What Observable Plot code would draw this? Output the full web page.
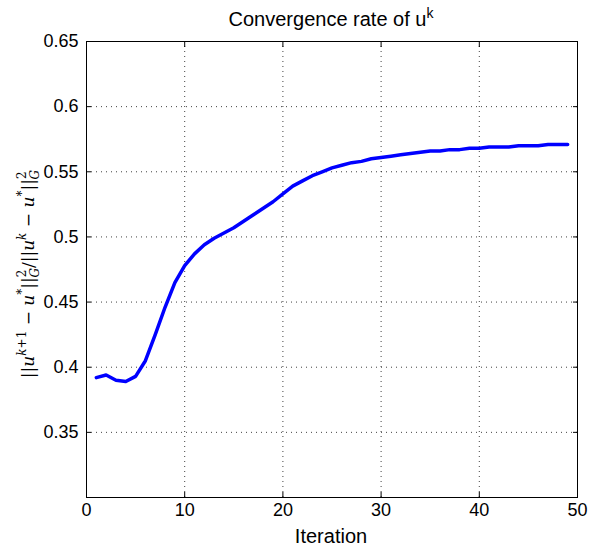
<!DOCTYPE html>
<html>
<head>
<meta charset="utf-8">
<script src="https://cdn.jsdelivr.net/npm/d3@7"></script>
<script src="https://cdn.jsdelivr.net/npm/@observablehq/plot@0.6"></script>
<style>
  html, body { margin: 0; padding: 0; background: #fff; }
  #chart svg { display: block; }
</style>
</head>
<body>
<div id="chart"></div>
<script>
const iterations = [1,2,3,4,5,6,7,8,9,10,11,12,13,14,15,16,17,18,19,20,21,22,23,24,25,26,27,28,29,30,31,32,33,34,35,36,37,38,39,40,41,42,43,44,45,46,47,48,49];
const ratios = [0.392,0.394,0.390,0.389,0.393,0.405,0.425,0.446,0.465,0.478,
                0.487,0.494,0.499,0.503,0.507,0.512,0.517,0.522,0.527,0.533,
                0.539,0.543,0.547,0.550,0.553,0.555,0.557,0.558,0.560,0.561,
                0.562,0.563,0.564,0.565,0.566,0.566,0.567,0.567,0.568,0.568,
                0.569,0.569,0.569,0.570,0.570,0.570,0.571,0.571,0.571];
const xTicks = [0,10,20,30,40,50];
const yTicks = [0.35,0.4,0.45,0.5,0.55,0.6,0.65];
const yTickLabels = ["0.35","0.4","0.45","0.5","0.55","0.6","0.65"];
const titleText = "Convergence rate of u";
const titleSup = "k";
const xLabel = "Iteration";

const data = iterations.map((it, i) => ({it, r: ratios[i]}));
const yFmt = d => yTickLabels[yTicks.findIndex(t => Math.abs(t - d) < 1e-9)];

const grid = {stroke: "#000", strokeOpacity: 0.75, strokeDasharray: "1,4", strokeWidth: 1};

const chart = Plot.plot({
  width: 600,
  height: 548,
  marginTop: 41,
  marginBottom: 51,
  marginLeft: 86,
  marginRight: 23,
  x: {domain: [0, 50], ticks: xTicks},
  y: {domain: [0.3, 0.65], ticks: yTicks},
  style: {fontFamily: "'Liberation Sans', Arial, sans-serif", fontSize: "18px", color: "#000", background: "#fff"},
  marks: [
    Plot.gridX(xTicks, grid),
    Plot.gridY(yTicks, grid),
    Plot.axisX({ticks: xTicks, tickSize: -5, tickPadding: 11, tickFormat: d => String(d), label: null, fontSize: 18}),
    Plot.axisX({anchor: "top", ticks: xTicks, tickSize: -5, tickFormat: () => "", label: null}),
    Plot.axisY({ticks: yTicks, tickSize: -5, tickPadding: 13, tickFormat: yFmt, label: null, fontSize: 18}),
    Plot.axisY({anchor: "right", ticks: yTicks, tickSize: -5, tickFormat: () => "", label: null}),
    Plot.frame({stroke: "#000", strokeWidth: 1}),
    Plot.line(data, {x: "it", y: "r", stroke: "#0000ff", strokeWidth: 3.5, strokeLinejoin: "round"})
  ]
});

document.getElementById("chart").appendChild(chart);

const svg = d3.select(chart);
// Title
const t = svg.append("text")
  .attr("x", 331)
  .attr("y", 26)
  .attr("text-anchor", "middle")
  .attr("font-family", "'Liberation Sans', Arial, sans-serif")
  .attr("font-size", 20)
  .attr("fill", "#000");
t.append("tspan").text(titleText);
t.append("tspan").attr("dy", -8).attr("font-size", 14).text(titleSup);

// X label
svg.append("text")
  .attr("x", 331)
  .attr("y", 543)
  .attr("text-anchor", "middle")
  .attr("font-family", "'Liberation Sans', Arial, sans-serif")
  .attr("font-size", 20)
  .attr("fill", "#000")
  .text(xLabel);

// Y label (math)
const yl = svg.append("text")
  .attr("transform", "translate(34,274) rotate(-90)")
  .attr("text-anchor", "middle")
  .attr("font-family", "'DejaVu Serif', 'Liberation Serif', serif")
  .attr("font-size", 17)
  .attr("fill", "#000");
const it = (s) => yl.append("tspan").attr("font-style", "italic").text(s);
const up = (s) => yl.append("tspan").text(s);
up("||"); it("u");
yl.append("tspan").attr("dy", -8).attr("font-size", 12).attr("font-style", "italic").text("k");
yl.append("tspan").attr("font-size", 12).text("+1");
yl.append("tspan").attr("dy", 8).text(" \u2212 ");
it("u");
yl.append("tspan").attr("dy", -8).attr("font-size", 12).text("*");
yl.append("tspan").attr("dy", 8).text("||");
yl.append("tspan").attr("dy", -8).attr("font-size", 12).text("2");
yl.append("tspan").attr("dx", -8).attr("dy", 13).attr("font-size", 12).attr("font-style", "italic").text("G");
yl.append("tspan").attr("dy", -5).text("/||");
it("u");
yl.append("tspan").attr("dy", -8).attr("font-size", 12).attr("font-style", "italic").text("k");
yl.append("tspan").attr("dy", 8).text(" \u2212 ");
it("u");
yl.append("tspan").attr("dy", -8).attr("font-size", 12).text("*");
yl.append("tspan").attr("dy", 8).text("||");
yl.append("tspan").attr("dy", -8).attr("font-size", 12).text("2");
yl.append("tspan").attr("dx", -8).attr("dy", 13).attr("font-size", 12).attr("font-style", "italic").text("G");
</script>
</body>
</html>
